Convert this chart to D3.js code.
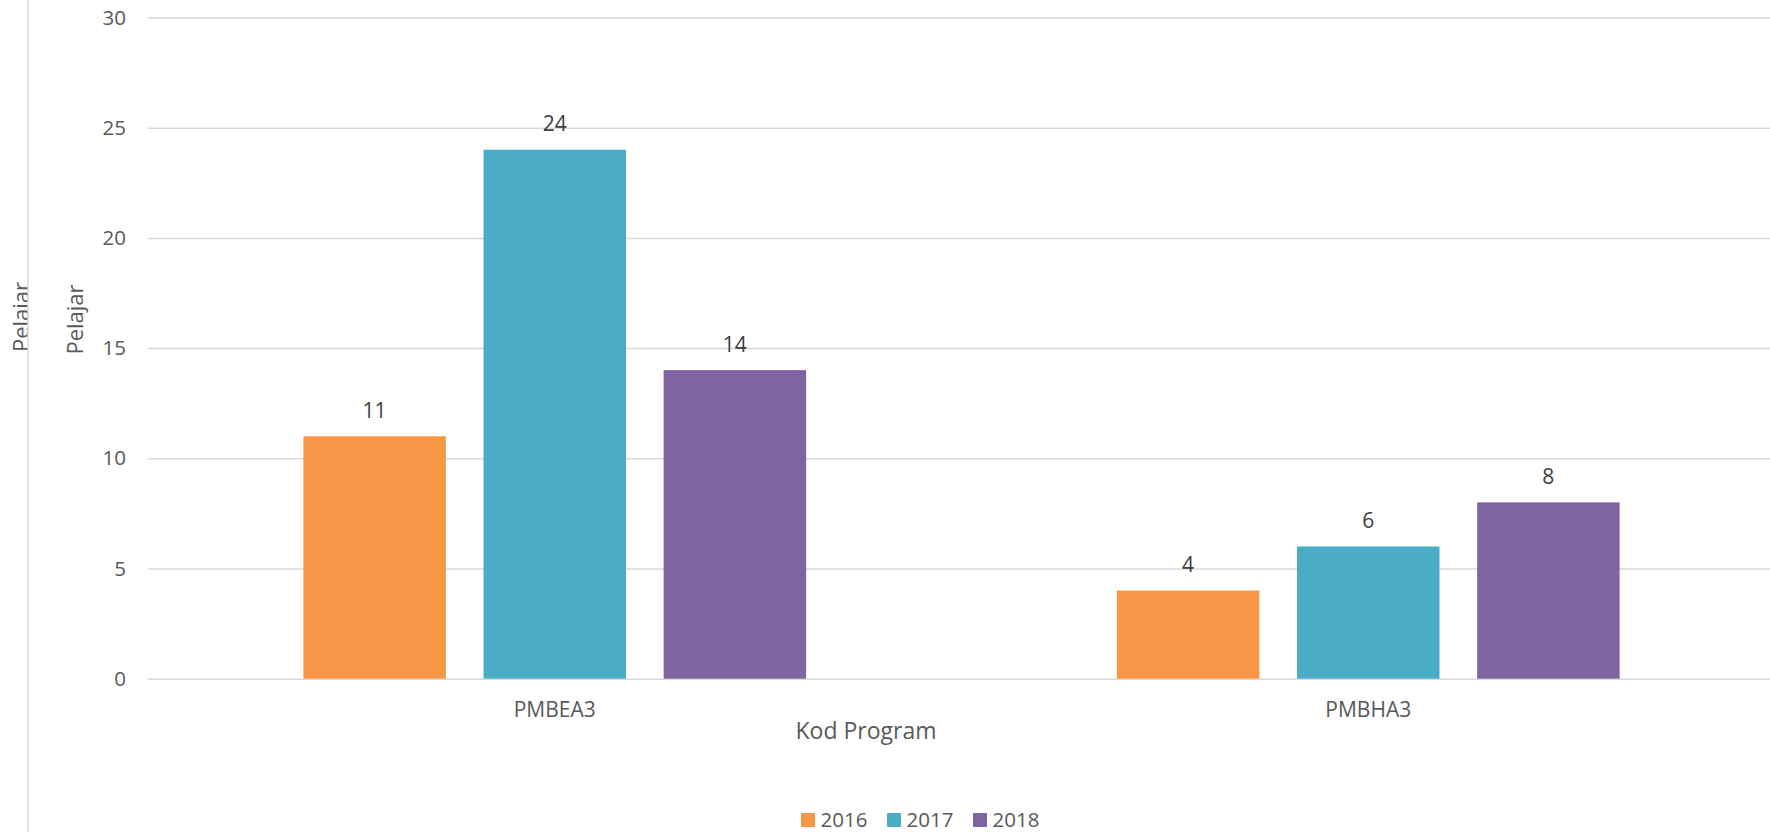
<!DOCTYPE html>
<html lang="ms">
<head>
    <meta charset="UTF-8">
    <title>Pelajar mengikut Kod Program</title>
    <script type="text/javascript" src="https://cdn.jsdelivr.net/npm/d3@7"></script>
    <style type="text/css">
        body { margin: 0; background: #fff; }
        text { font-family: "Open Sans", "Noto Sans", sans-serif; }
    </style>
</head>
<body>
    <script type="text/javascript">
        //Width and height
        var w = 1770;
        var h = 832;

        //Data
        var categories = ["PMBEA3", "PMBHA3"];
        var years = ["2016", "2017", "2018"];
        var values2016 = [11, 4];
        var values2017 = [24, 6];
        var values2018 = [14, 8];
        var yTicks = [0, 5, 10, 15, 20, 25, 30];
        var colors = ["#F79646", "#4BACC6", "#8064A2"];

        var seriesValues = [values2016, values2017, values2018];

        //Plot area
        var plotLeft = 148, plotRight = 1775, plotTop = 17.5, plotBottom = 678.7;

        var x0 = d3.scaleBand()
            .domain(categories)
            .range([plotLeft, plotRight])
            .paddingInner(0.382)
            .paddingOuter(0.191);

        var x1 = d3.scaleBand()
            .domain(years)
            .range([0, x0.bandwidth()])
            .paddingInner(0.209);

        var yScale = d3.scaleLinear()
            .domain([0, 30])
            .range([plotBottom, plotTop]);

        var color = d3.scaleOrdinal()
            .domain(years)
            .range(colors);

        //Create SVG element
        var svg = d3.select("body")
            .append("svg")
            .attr("width", w)
            .attr("height", h);

        //outer frame line on the left
        svg.append("line")
            .attr("x1", 28).attr("x2", 28)
            .attr("y1", 0).attr("y2", h)
            .attr("stroke", "#d9d9d9")
            .attr("stroke-width", 1.5);

        //clipped outer axis title (cut by the frame line)
        svg.append("defs")
            .append("clipPath")
            .attr("id", "clipOuter")
            .append("rect")
            .attr("x", 0).attr("y", 0)
            .attr("width", 27.3).attr("height", h);

        svg.append("g")
            .attr("clip-path", "url(#clipOuter)")
            .append("text")
            .attr("transform", "translate(28.5,317) rotate(-90)")
            .attr("text-anchor", "middle")
            .attr("font-size", "22px")
            .attr("fill", "#595959")
            .text("Pelajar");

        //y axis with gridlines
        var yAxis = d3.axisLeft(yScale)
            .tickValues(yTicks)
            .tickSize(-(plotRight - plotLeft))
            .tickPadding(22);

        var gy = svg.append("g")
            .attr("transform", "translate(" + plotLeft + ",0)")
            .call(yAxis);

        gy.select(".domain").remove();
        gy.selectAll(".tick line")
            .attr("stroke", "#d9d9d9")
            .attr("stroke-width", 1.5);
        gy.selectAll(".tick text")
            .attr("font-family", "Open Sans, sans-serif")
            .attr("font-size", "20.5px")
            .attr("fill", "#595959");

        //y axis title
        svg.append("text")
            .attr("transform", "translate(83,319.5) rotate(-90)")
            .attr("text-anchor", "middle")
            .attr("font-size", "22px")
            .attr("fill", "#595959")
            .text("Pelajar");

        //Create bars
        var groups = svg.selectAll("g.group")
            .data(categories)
            .enter()
            .append("g")
            .attr("class", "group")
            .attr("transform", function(d) {
                return "translate(" + x0(d) + ",0)";
            });

        function rowsFor(d, i) {
            return years.map(function(y, j) {
                return { year: y, value: seriesValues[j][i] };
            });
        }

        groups.selectAll("rect")
            .data(rowsFor)
            .enter()
            .append("rect")
            .attr("x", function(d) { return x1(d.year); })
            .attr("y", function(d) { return yScale(d.value); })
            .attr("width", x1.bandwidth())
            .attr("height", function(d) { return plotBottom - yScale(d.value); })
            .attr("fill", function(d) { return color(d.year); });

        //Create labels
        groups.selectAll("text.value")
            .data(rowsFor)
            .enter()
            .append("text")
            .attr("class", "value")
            .attr("text-anchor", "middle")
            .attr("x", function(d) { return x1(d.year) + x1.bandwidth() / 2; })
            .attr("y", function(d) { return yScale(d.value) - 18.5; })
            .attr("font-size", "21px")
            .attr("fill", "#404040")
            .text(function(d) { return d.value; });

        //category labels
        svg.selectAll("text.cat")
            .data(categories)
            .enter()
            .append("text")
            .attr("class", "cat")
            .attr("text-anchor", "middle")
            .attr("x", function(d) { return x0(d) + x0.bandwidth() / 2; })
            .attr("y", 716.7)
            .attr("font-size", "21px")
            .attr("fill", "#595959")
            .text(function(d) { return d; });

        //x axis title
        svg.append("text")
            .attr("text-anchor", "middle")
            .attr("x", 866)
            .attr("y", 739.3)
            .attr("font-size", "23px")
            .attr("fill", "#595959")
            .text("Kod Program");

        //legend
        var legend = svg.selectAll("g.legend")
            .data(years)
            .enter()
            .append("g")
            .attr("class", "legend")
            .attr("transform", function(d, i) {
                return "translate(" + (801 + i * 86) + ",813)";
            });

        legend.append("rect")
            .attr("width", 14)
            .attr("height", 14)
            .attr("fill", function(d) { return color(d); });

        legend.append("text")
            .attr("x", 19.5)
            .attr("y", 14)
            .attr("font-size", "20.5px")
            .attr("fill", "#595959")
            .text(function(d) { return d; });
    </script>
</body>
</html>
